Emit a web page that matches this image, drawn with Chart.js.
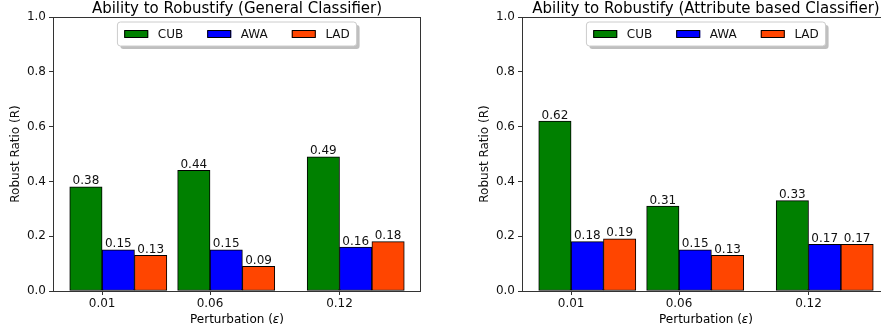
<!DOCTYPE html>
<html>
<head>
<meta charset="utf-8">
<script src="https://cdn.jsdelivr.net/npm/chart.js@4.4.1/dist/chart.umd.min.js"></script>
<style>
  html, body { margin: 0; padding: 0; background: #fff; }
  #wrap { position: relative; width: 881px; height: 332px; overflow: hidden; }
  canvas { position: absolute; top: 0; }
  #c1 { left: 0; }
  #c2 { left: 469px; }
</style>
</head>
<body>
<div id="wrap">
  <canvas id="c1" width="440" height="332"></canvas>
  <canvas id="c2" width="440" height="332"></canvas>
</div>
<script>
// data
const perturbations = [0.01, 0.06, 0.12];
const seriesNames = ["CUB", "AWA", "LAD"];
const generalCUB = [0.38, 0.44, 0.49];
const generalAWA = [0.15, 0.15, 0.16];
const generalLAD = [0.13, 0.09, 0.18];
const attrCUB = [0.62, 0.31, 0.33];
const attrAWA = [0.18, 0.15, 0.17];
const attrLAD = [0.19, 0.13, 0.17];
const yTicks = [0, 0.2, 0.4, 0.6, 0.8, 1.0];

const colors = ["#008000", "#0000ff", "#ff4500"];
const barW = 0.015; // bar width in x units
const FONT = '"DejaVu Sans", sans-serif';

// x limits like matplotlib's 5% margins around the bars
const lo = perturbations[0] - barW;
const hi = perturbations[perturbations.length - 1] + 2 * barW;
const xMin = lo - 0.05 * (hi - lo);
const xMax = hi + 0.05 * (hi - lo);

const canvasW = 440, yAxisW = 53, padRight = 19;
const plotW = canvasW - yAxisW - padRight;
const barPx = plotW * barW / (xMax - xMin);

const decor = {
  id: "decor",
  afterDatasetsDraw(chart, args, opts) {
    const { ctx, chartArea: a } = chart;
    ctx.save();

    // value labels on top of bars
    ctx.font = "12px " + FONT;
    ctx.fillStyle = "#111";
    ctx.textAlign = "center";
    ctx.textBaseline = "alphabetic";
    chart.data.datasets.forEach((ds, i) => {
      chart.getDatasetMeta(i).data.forEach((bar, j) => {
        ctx.fillText(ds.data[j].y.toFixed(2), bar.x, bar.y - 2.5);
      });
    });

    // frame
    ctx.strokeStyle = "#333";
    ctx.lineWidth = 1;
    ctx.strokeRect(Math.round(a.left) + 0.5, Math.round(a.top) + 0.5,
      Math.round(a.right - a.left) - 1, Math.round(a.bottom - a.top));

    const cx = (a.left + a.right) / 2;

    // title
    ctx.font = "15px " + FONT;
    ctx.fillStyle = "#000";
    ctx.textAlign = "center";
    ctx.fillText(opts.title, cx, 12.5);

    // x label with italic epsilon
    ctx.font = "12px " + FONT;
    const p1 = "Perturbation (", p3 = ")";
    const w1 = ctx.measureText(p1).width, w3 = ctx.measureText(p3).width;
    ctx.font = "italic 12px " + FONT;
    const w2 = ctx.measureText("ε").width;
    let x = cx - (w1 + w2 + w3) / 2;
    ctx.textAlign = "left";
    ctx.font = "12px " + FONT;
    ctx.fillText(p1, x, 323);
    ctx.font = "italic 12px " + FONT;
    ctx.fillText("ε", x + w1, 323);
    ctx.font = "12px " + FONT;
    ctx.fillText(p3, x + w1 + w2, 323);

    // legend (upper center, with shadow)
    const fs = 12;
    ctx.font = fs + "px " + FONT;
    const handleL = 2 * fs, textPad = 0.8 * fs, colSp = 2 * fs, pad = 0.4 * fs;
    const widths = chart.data.datasets.map(ds => ctx.measureText(ds.label).width);
    let inner = 0;
    widths.forEach((w, i) => { inner += handleL + textPad + w + (i < widths.length - 1 ? colSp : 0); });
    const boxW = inner + 2 * pad + 4;
    const boxH = fs * 1.2 + 2 * pad;
    const bx = cx - boxW / 2, by = a.top + 5;
    const rr = (x0, y0, w, h, r) => {
      ctx.beginPath();
      ctx.moveTo(x0 + r, y0);
      ctx.arcTo(x0 + w, y0, x0 + w, y0 + h, r);
      ctx.arcTo(x0 + w, y0 + h, x0, y0 + h, r);
      ctx.arcTo(x0, y0 + h, x0, y0, r);
      ctx.arcTo(x0, y0, x0 + w, y0, r);
      ctx.closePath();
    };
    rr(bx + 3, by + 3, boxW, boxH, 3);
    ctx.fillStyle = "rgba(128,128,128,0.5)";
    ctx.fill();
    rr(bx, by, boxW, boxH, 3);
    ctx.fillStyle = "#fff";
    ctx.fill();
    ctx.strokeStyle = "#ccc";
    ctx.stroke();
    let lx = bx + pad + 2;
    const midY = by + boxH / 2;
    chart.data.datasets.forEach((ds, i) => {
      ctx.fillStyle = ds.backgroundColor;
      ctx.fillRect(lx, midY - 3.5, handleL, 7);
      ctx.strokeStyle = "#000";
      ctx.strokeRect(lx + 0.5, midY - 3.5, handleL - 1, 7);
      ctx.fillStyle = "#111";
      ctx.textAlign = "left";
      ctx.textBaseline = "middle";
      ctx.fillText(ds.label, lx + handleL + textPad, midY + 0.5);
      lx += handleL + textPad + widths[i] + colSp;
    });
    ctx.restore();
  }
};

function makeChart(id, title, cub, awa, lad) {
  const vals = [cub, awa, lad];
  const offsets = [-0.5, 0.5, 1.5];
  const datasets = seriesNames.map((name, i) => ({
    label: name,
    data: perturbations.map((p, j) => ({ x: p + offsets[i] * barW, y: vals[i][j] })),
    backgroundColor: colors[i],
    borderColor: "#000",
    borderWidth: 1,
    borderSkipped: false,
    barThickness: barPx,
    grouped: false
  }));
  return new Chart(document.getElementById(id), {
    type: "bar",
    data: { datasets },
    plugins: [decor],
    options: {
      responsive: false,
      animation: false,
      devicePixelRatio: 1,
      layout: { padding: { left: 0, right: padRight, top: 17, bottom: 0 } },
      plugins: {
        legend: { display: false },
        tooltip: { enabled: false },
        title: { display: false },
        decor: { title }
      },
      scales: {
        x: {
          type: "linear",
          min: xMin,
          max: xMax,
          offset: false,
          afterBuildTicks: s => { s.ticks = perturbations.map(v => ({ value: v })); },
          afterFit: s => { s.height = 41; },
          ticks: {
            callback: v => v.toFixed(2),
            font: { family: FONT, size: 12 },
            color: "#111",
            padding: 2,
            maxRotation: 0,
            autoSkip: false
          },
          grid: { drawOnChartArea: false, drawTicks: true, tickLength: 4, color: "#333", offset: false },
          border: { display: false }
        },
        y: {
          min: 0,
          max: 1,
          afterBuildTicks: s => { s.ticks = yTicks.map(v => ({ value: v })); },
          afterFit: s => { s.width = yAxisW; },
          ticks: {
            callback: v => v.toFixed(1),
            font: { family: FONT, size: 12 },
            color: "#111",
            padding: 3
          },
          grid: { drawOnChartArea: false, drawTicks: true, tickLength: 4, color: "#333" },
          border: { display: false },
          title: {
            display: true,
            text: "Robust Ratio (R)",
            font: { family: FONT, size: 12 },
            color: "#111",
            padding: { top: 9, bottom: 0 }
          }
        }
      }
    }
  });
}

makeChart("c1", "Ability to Robustify (General Classifier)", generalCUB, generalAWA, generalLAD);
makeChart("c2", "Ability to Robustify (Attribute based Classifier)", attrCUB, attrAWA, attrLAD);
</script>
</body>
</html>
